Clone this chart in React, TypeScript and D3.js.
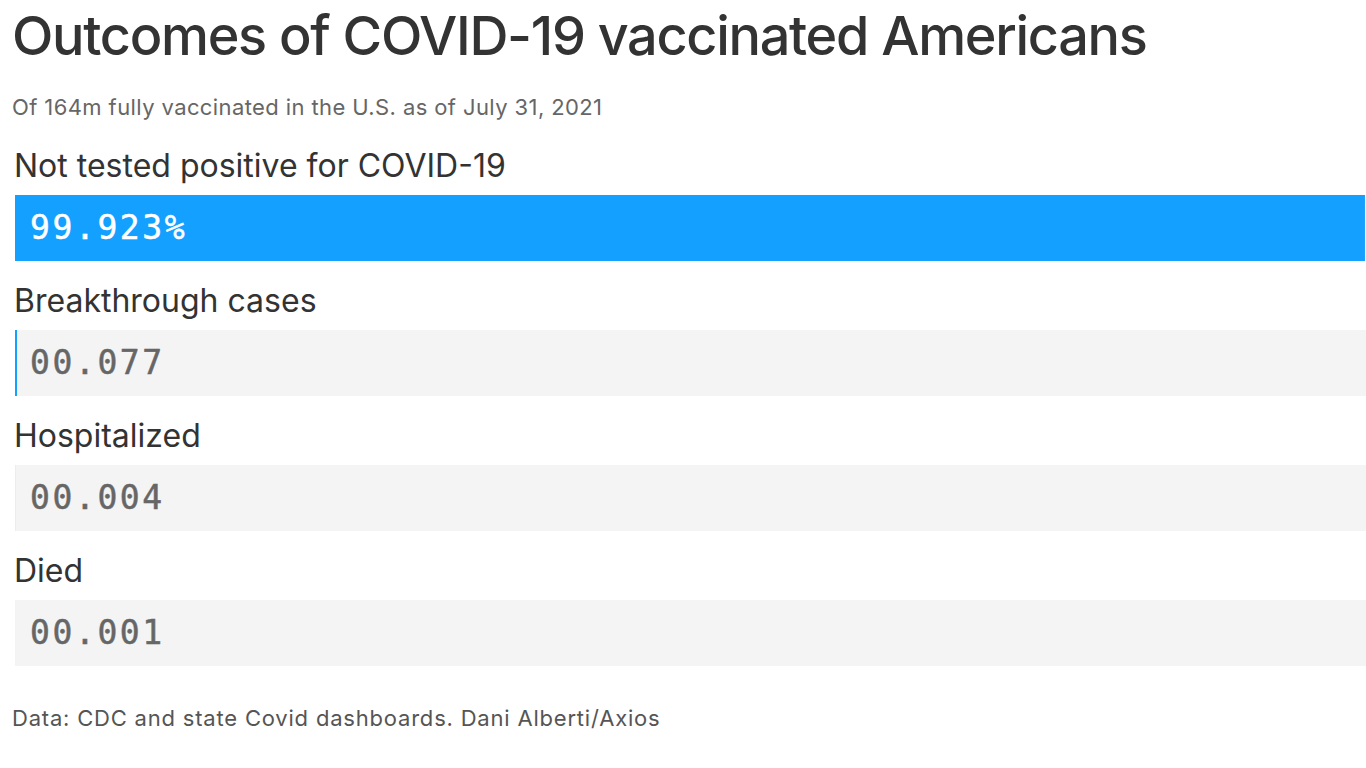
import React from "react";
import * as d3 from "d3";

const categories = ["Not tested positive for COVID-19", "Breakthrough cases", "Hospitalized", "Died"];
const values = [99.923, 0.077, 0.004, 0.001];
const valueLabels = ["99.923%", "00.077", "00.004", "00.001"];

const W = 1366;
const H = 768;

export default function App() {
  const x = d3.scaleLinear().domain([0, 100]).range([15, 1366]);
  const y = d3.scaleBand<number>().domain(d3.range(categories.length)).range([195, 195 + 135 * 4]).paddingInner(0).paddingOuter(0);
  const barH = 66;
  const sans = "Inter, 'Noto Sans', sans-serif";
  const mono = "'DejaVu Sans Mono', monospace";
  return (
    <svg width={W} height={H} style={{ position: "absolute", left: 0, top: 0, background: "#fff" }}>
      <text x={12} y={55} fontFamily={sans} fontSize={54} fill="#333" fontWeight={500} letterSpacing={-1.3}>
        Outcomes of COVID-19 vaccinated Americans
      </text>
      <text x={12} y={115} fontFamily={sans} fontSize={22} fill="#666" letterSpacing={0.4}>
        Of 164m fully vaccinated in the U.S. as of July 31, 2021
      </text>
      {categories.map((c, i) => {
        const y0 = y(i)!;
        const isFirst = i === 0;
        return (
          <g key={c}>
            <text x={14} y={y0 - 18} fontFamily={sans} fontSize={32} fill="#333">
              {c}
            </text>
            <rect x={x(0)} y={y0} width={x(100) - x(0)} height={barH} fill="#f4f4f4" />
            <rect x={x(0)} y={y0} width={Math.max(0, x(values[i]) - x(0))} height={barH} fill="#14a0ff" />
            {i === 1 && <rect x={x(0)} y={y0} width={2} height={barH} fill="#14a0ff" />}
            <text
              x={30}
              y={y0 + barH / 2 + 11}
              fontFamily={mono}
              fontSize={33}
              fontWeight={400}
              letterSpacing={2.6}
              fill={isFirst ? "#fff" : "#666"}
              stroke={isFirst ? "#fff" : "#666"}
              strokeWidth={0.5}
            >
              {valueLabels[i]}
            </text>
          </g>
        );
      })}
      <text x={12} y={726} fontFamily={sans} fontSize={22} fill="#555" letterSpacing={0.8}>
        Data: CDC and state Covid dashboards. Dani Alberti/Axios
      </text>
    </svg>
  );
}
